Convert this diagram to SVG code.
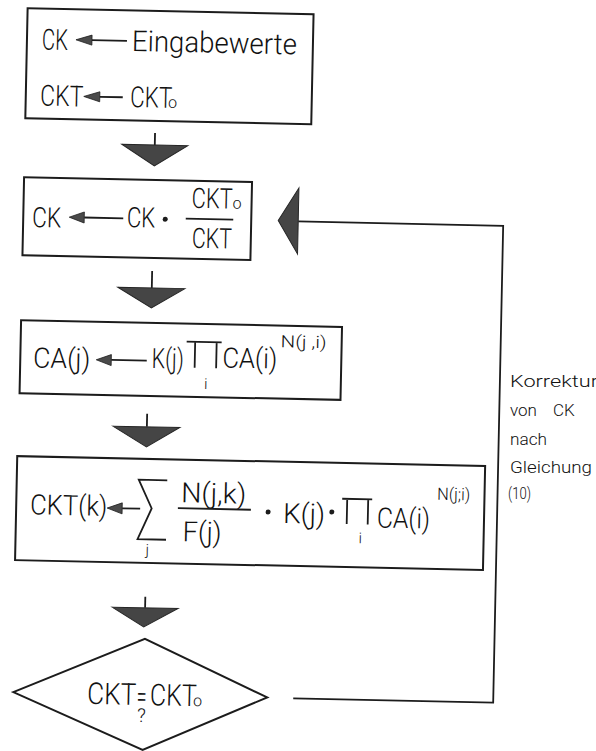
<svg xmlns="http://www.w3.org/2000/svg" width="596" height="751" viewBox="0 0 596 751">
<defs>
<style>
.box{fill:none;stroke:#1c1c1c;stroke-width:2}
.ln{fill:none;stroke:#1c1c1c;stroke-width:1.8}
.t{font-family:Roboto,'DejaVu Sans Condensed','DejaVu Sans',sans-serif;font-weight:300;fill:#111111}
.big{font-size:29px}
.mid{font-size:28px}
.dia{font-size:30px}
.sup{font-size:17px}
.sm{font-size:16px}
.sub{font-size:15px}
.lab{font-size:17px}
.ah{fill:#4a4a4a;stroke:#1c1c1c;stroke-width:0.8}
.da{fill:#454545;stroke:#262626;stroke-width:1}
.dot{fill:#1c1c1c}
</style>
</defs>
<rect width="596" height="751" fill="#ffffff"/>
<g transform="rotate(1.2 298 375)">
 <g id="connectors">
  <path class="ln" d="M150,136 V148"/>
  <polygon class="da" points="117,148 183,148 150,169"/>
  <path class="ln" d="M150,274 V291"/>
  <polygon class="da" points="116,291 183,291 150,311"/>
  <path class="ln" d="M148,417 V430"/>
  <polygon class="da" points="114,430 181,430 148,450"/>
  <path class="ln" d="M150,600 V611"/>
  <polygon class="da" points="117,611 183,611 149,630"/>
  <path class="ln" d="M300,698.5 H500 V221.5 H295"/>
  <polygon class="da" points="275,221 295,188 295,254"/>
 </g>
 <g id="node-init">
  <rect class="box" x="20" y="14" width="286" height="110"/>
  <text class="t big" x="35" y="55" textLength="26" lengthAdjust="spacingAndGlyphs">CK</text>
  <polygon class="ah" points="69,44.5 85,39.5 85,49.5"/>
  <line class="ln" x1="85" y1="44.5" x2="120" y2="44.5"/>
  <text class="t big" x="125" y="54.5" textLength="165" lengthAdjust="spacingAndGlyphs">Eingabewerte</text>
  <text class="t big" x="34.5" y="111" textLength="43" lengthAdjust="spacingAndGlyphs">CKT</text>
  <polygon class="ah" points="78,101 94,96 94,106"/>
  <line class="ln" x1="94" y1="101" x2="117" y2="101"/>
  <text class="t big" x="124.5" y="110.5" textLength="42" lengthAdjust="spacingAndGlyphs">CKT</text>
  <text class="t sm" x="162.5" y="110.5">o</text>
 </g>
 <g id="node-scale">
  <rect class="box" x="20" y="183" width="228" height="78"/>
  <text class="t mid" x="29" y="232.5" textLength="29" lengthAdjust="spacingAndGlyphs">CK</text>
  <polygon class="ah" points="66,222 81,216.5 81,227.5"/>
  <line class="ln" x1="81" y1="222" x2="120" y2="222"/>
  <text class="t mid" x="123.6" y="230.5" textLength="28.5" lengthAdjust="spacingAndGlyphs">CK</text>
  <circle class="dot" cx="162" cy="222" r="2.5"/>
  <text class="t mid" x="188" y="210" textLength="41" lengthAdjust="spacingAndGlyphs">CKT</text>
  <text class="t sm" x="229" y="210">o</text>
  <line class="ln" x1="182.5" y1="221" x2="230" y2="221"/>
  <text class="t mid" x="189" y="250" textLength="40" lengthAdjust="spacingAndGlyphs">CKT</text>
 </g>
 <g id="node-ca">
  <rect class="box" x="20" y="326" width="321" height="73"/>
  <text class="t mid" x="33" y="373" textLength="57" lengthAdjust="spacingAndGlyphs">CA(j)</text>
  <polygon class="ah" points="96,364 111,358.5 111,369.5"/>
  <line class="ln" x1="111" y1="363.7" x2="146.5" y2="363.7"/>
  <text class="t mid" x="151.5" y="371" textLength="32" lengthAdjust="spacingAndGlyphs">K(j)</text>
  <path class="ln" d="M186,344 H221 M194.5,344 V370 M216,344 V370"/>
  <text class="t sub" x="206" y="391" text-anchor="middle">i</text>
  <text class="t mid" x="222" y="369" textLength="55" lengthAdjust="spacingAndGlyphs">CA(i)</text>
  <text class="t sup" x="280" y="347.6" textLength="46" lengthAdjust="spacingAndGlyphs">N(j ,i)</text>
 </g>
 <g id="node-ckt">
  <rect class="box" x="19" y="462" width="468" height="104"/>
  <text class="t mid" x="33" y="519.8" textLength="77" lengthAdjust="spacingAndGlyphs">CKT(k)</text>
  <polygon class="ah" points="110,512 125,506.5 125,517.5"/>
  <line class="ln" x1="125" y1="512" x2="143" y2="512"/>
  <path class="ln" d="M169.5,483 H141 L154.5,511.5 L141,542.5 H169.5"/>
  <text class="t sub" x="151" y="558" text-anchor="middle">j</text>
  <text class="t mid" x="183.7" y="504.7" textLength="65" lengthAdjust="spacingAndGlyphs">N(j,k)</text>
  <line class="ln" x1="180.7" y1="510.7" x2="253.7" y2="510.7"/>
  <text class="t mid" x="186" y="543.7" textLength="39" lengthAdjust="spacingAndGlyphs">F(j)</text>
  <circle class="dot" cx="271" cy="512.6" r="2.5"/>
  <text class="t mid" x="286" y="523.3" textLength="42" lengthAdjust="spacingAndGlyphs">K(j)</text>
  <circle class="dot" cx="334.7" cy="511.3" r="2.5"/>
  <path class="ln" d="M344.8,497.8 H374.8 M349.8,497.8 V523 M370.8,497.8 V523"/>
  <text class="t sub" x="363.8" y="542" text-anchor="middle">i</text>
  <text class="t mid" x="380" y="525.8" textLength="53" lengthAdjust="spacingAndGlyphs">CA(i)</text>
  <text class="t sup" x="439.6" y="496.8" textLength="33" lengthAdjust="spacingAndGlyphs">N(j;i)</text>
 </g>
 <g id="node-decision">
  <polygon class="box" points="20,698 150.5,642 274,698 150.5,753"/>
  <text class="t dia" x="94" y="708.2" textLength="49" lengthAdjust="spacingAndGlyphs">CKT</text>
  <text class="t dia" x="143.5" y="710" textLength="10" lengthAdjust="spacingAndGlyphs">=</text>
  <text class="t" font-size="19" x="148.5" y="725" text-anchor="middle">?</text>
  <text class="t dia" x="156.8" y="708.2" textLength="46.7" lengthAdjust="spacingAndGlyphs">CKT</text>
  <text class="t sm" x="200" y="708.2">o</text>
 </g>
</g>
<g id="feedback-label" class="t lab">
 <text x="510" y="387" textLength="88" lengthAdjust="spacingAndGlyphs">Korrektur</text>
 <text x="510" y="416">von <tspan x="553">CK</tspan></text>
 <text x="510" y="445" textLength="37" lengthAdjust="spacingAndGlyphs">nach</text>
 <text x="510" y="473" textLength="82" lengthAdjust="spacingAndGlyphs">Gleichung</text>
 <text x="508" y="499" textLength="23" lengthAdjust="spacingAndGlyphs">(10)</text>
</g>
</svg>
